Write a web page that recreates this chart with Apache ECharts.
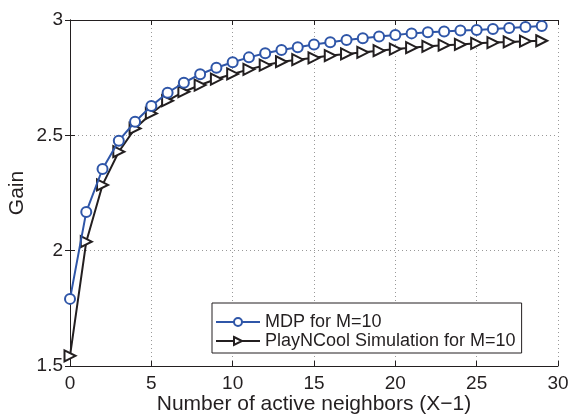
<!DOCTYPE html>
<html>
<head>
<meta charset="utf-8">
<script src="https://cdn.jsdelivr.net/npm/echarts@6/dist/echarts.min.js"></script>
<style>html,body{margin:0;padding:0;background:#fff}#c{width:570px;height:415px}</style>
</head>
<body>
<div id="c"></div>
<script>
const xValues = [0,1,2,3,4,5,6,7,8,9,10,11,12,13,14,15,16,17,18,19,20,21,22,23,24,25,26,27,28,29];
const mdp = [1.791,2.168,2.354,2.477,2.559,2.627,2.685,2.728,2.765,2.793,2.817,2.838,2.856,2.870,2.882,2.894,2.904,2.913,2.921,2.928,2.935,2.942,2.947,2.950,2.954,2.957,2.961,2.965,2.970,2.974];
const sim = [1.544,2.039,2.285,2.429,2.530,2.595,2.650,2.689,2.718,2.744,2.766,2.786,2.804,2.819,2.828,2.836,2.846,2.853,2.860,2.867,2.874,2.880,2.886,2.891,2.894,2.899,2.902,2.905,2.908,2.910];
const seriesNames = ['MDP for M=10','PlayNCool Simulation for M=10'];
const xTicks = {min:0,max:30,interval:5};
const yTicks = {min:1.5,max:3,interval:0.5};

const FONT = 'Liberation Sans, Arial, Helvetica, sans-serif';
const BLUE = '#2f56a8';
const BLACK = '#231f20';
const tri = 'path://M0,0 L10,5 L0,10 Z';

const chart = echarts.init(document.getElementById('c'));
const axisLine = {show:true, lineStyle:{color:BLACK, width:1}};
const tick = {show:true, inside:true, length:5, lineStyle:{color:BLACK}};
const grid = {show:true, lineStyle:{color:'#999', type:[1,3], width:1}};
chart.setOption({
  animation:false,
  grid:{left:70,right:12,top:20,bottom:49,containLabel:false,outerBoundsMode:'none'},
  legend:{
    left:212, top:303,
    orient:'vertical',
    backgroundColor:'#fff', borderColor:BLACK, borderWidth:1,
    padding:[10,6,3,3], itemGap:1, itemWidth:44, itemHeight:10,
    textStyle:{fontFamily:FONT, fontSize:18, color:BLACK},
    data: seriesNames
  },
  xAxis:[{
    type:'value', min:xTicks.min, max:xTicks.max, interval:xTicks.interval,
    axisLine, axisTick:tick, splitLine:grid,
    axisLabel:{fontFamily:FONT, fontSize:19, color:BLACK, margin:8},
    name:'Number of active neighbors (X\u22121)', nameLocation:'middle', nameGap:28, nameMoveOverlap:false,
    nameTextStyle:{fontFamily:FONT, fontSize:21, color:BLACK}
  },{
    type:'value', position:'top', min:xTicks.min, max:xTicks.max, interval:xTicks.interval,
    axisLine, axisTick:tick, splitLine:{show:false}, axisLabel:{show:false}
  }],
  yAxis:[{
    type:'value', min:yTicks.min, max:yTicks.max, interval:yTicks.interval,
    axisLine, axisTick:tick, splitLine:grid,
    axisLabel:{fontFamily:FONT, fontSize:19, color:BLACK, margin:7},
    name:'Gain', nameLocation:'middle', nameGap:42, nameMoveOverlap:false,
    nameTextStyle:{fontFamily:FONT, fontSize:21, color:BLACK}
  },{
    type:'value', position:'right', min:yTicks.min, max:yTicks.max, interval:yTicks.interval,
    axisLine, axisTick:tick, splitLine:{show:false}, axisLabel:{show:false}
  }],
  series:[{
    name:seriesNames[0], type:'line', data:xValues.map((x,i)=>[x,mdp[i]]),
    symbol:'emptyCircle', symbolSize:10, showAllSymbol:true,
    lineStyle:{color:BLUE, width:2},
    itemStyle:{color:BLUE, borderColor:BLUE, borderWidth:2},
    z:3
  },{
    name:seriesNames[1], type:'line', data:xValues.map((x,i)=>[x,sim[i]]),
    symbol:tri, symbolSize:[11,11], showAllSymbol:true,
    lineStyle:{color:BLACK, width:2},
    itemStyle:{color:'#fff', borderColor:BLACK, borderWidth:2},
    z:2
  }]
});
</script>
</body>
</html>
